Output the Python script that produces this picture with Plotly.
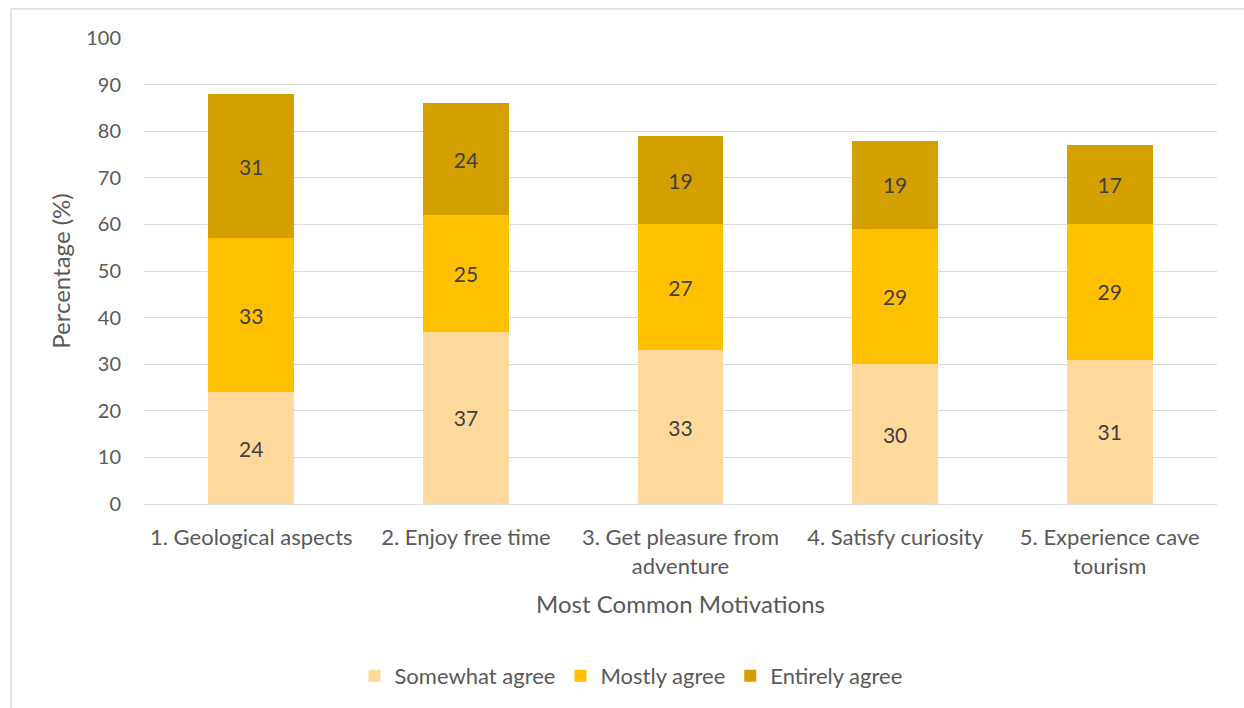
import plotly.graph_objects as go

categories = [
    "1. Geological aspects",
    "2. Enjoy free time",
    "3. Get pleasure from<br>adventure",
    "4. Satisfy curiosity",
    "5. Experience cave<br>tourism",
]
somewhat_agree = [24, 37, 33, 30, 31]
mostly_agree = [33, 25, 27, 29, 29]
entirely_agree = [31, 24, 19, 19, 17]
y_ticks = [0, 10, 20, 30, 40, 50, 60, 70, 80, 90, 100]

series = [
    ("Somewhat agree", somewhat_agree, "#FFD89B"),
    ("Mostly agree", mostly_agree, "#FFC000"),
    ("Entirely agree", entirely_agree, "#D4A000"),
]

FONT = "Lato, Carlito, Calibri, sans-serif"
W, H = 1244, 708
L, R, T, B = 144, 27, 38, 203

fig = go.Figure()
for name, vals, color in series:
    fig.add_trace(go.Bar(
        x=categories, y=vals, name=name,
        marker=dict(color=color, line=dict(width=0)),
        text=[str(v) for v in vals], textposition="inside",
        insidetextanchor="middle",
        textfont=dict(family=FONT, size=21, color="#404040"),
        hoverinfo="skip",
    ))

pw, ph = W - L - R, H - T - B
fig.update_layout(
    width=W, height=H,
    margin=dict(l=L, r=R, t=T, b=B),
    barmode="stack", bargap=0.6,
    plot_bgcolor="white", paper_bgcolor="white",
    font=dict(family=FONT, color="#595959", size=20),
    uniformtext=dict(mode="show", minsize=21),
    xaxis=dict(
        title=dict(text="Most Common Motivations", font=dict(size=24), standoff=18),
        tickfont=dict(size=22), showgrid=False, showline=False, ticks="",
        ticklabelstandoff=18,
    ),
    yaxis=dict(
        title=dict(text="Percentage (%)", font=dict(size=24), standoff=8),
        range=[0, 100], tickvals=y_ticks, tickfont=dict(size=20),
        gridcolor="#D9D9D9", gridwidth=1, zeroline=True, zerolinecolor="#D9D9D9",
        zerolinewidth=1, ticks="", showline=False, ticklabelstandoff=22,
    ),
    legend=dict(
        orientation="h", x=(631 - L) / pw, xanchor="center",
        y=(H - B - 676) / ph, yanchor="middle",
        font=dict(size=22), itemwidth=30, traceorder="normal",
    ),
    shapes=[dict(
        type="rect", xref="paper", yref="paper",
        x0=(11 - L) / pw, x1=(1260 - L) / pw,
        y0=(H - B - 720) / ph, y1=(H - B - 9) / ph,
        line=dict(color="#D9D9D9", width=1.5), fillcolor="rgba(0,0,0,0)",
        layer="below",
    )],
)

fig.write_html("out.html")
